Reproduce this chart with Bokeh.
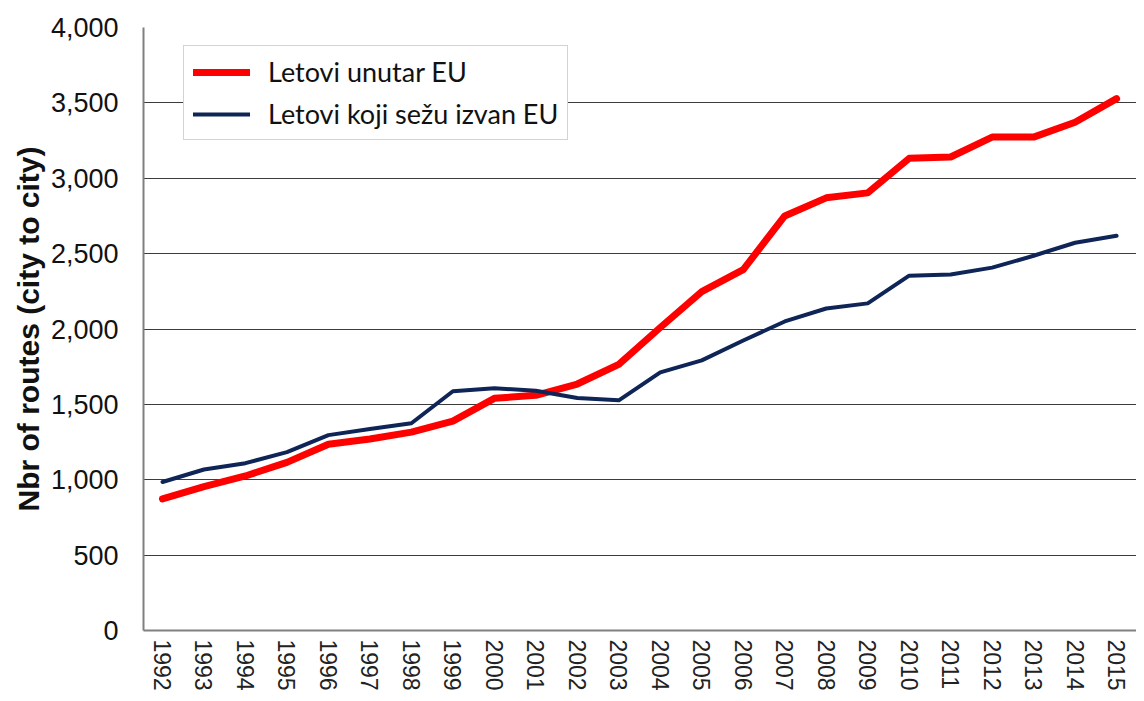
from bokeh.plotting import figure
from bokeh.models import (Range1d, FixedTicker, NumeralTickFormatter, Legend, LegendItem,
                          ColumnDataSource)
from bokeh.embed import file_html
from bokeh.resources import INLINE

years = list(range(1992, 2016))
year_labels = [str(y) for y in years]
within_eu = [873, 955, 1025, 1115, 1236, 1270, 1316, 1389, 1540, 1560, 1635, 1765,
             2010, 2248, 2394, 2750, 2870, 2903, 3132, 3141, 3273, 3273, 3372, 3528]
beyond_eu = [985, 1068, 1110, 1183, 1296, 1336, 1375, 1587, 1607, 1590, 1542, 1527,
             1712, 1792, 1924, 2050, 2136, 2170, 2354, 2361, 2407, 2486, 2572, 2618]
y_ticks = [0, 500, 1000, 1500, 2000, 2500, 3000, 3500, 4000]
series_names = ["Letovi unutar EU", "Letovi koji sežu izvan EU"]

src = ColumnDataSource(dict(x=years, a=within_eu, b=beyond_eu))

p = figure(width=1136, height=693, output_backend="svg", toolbar_location=None,
           x_range=Range1d(1991.542, 2015.48), y_range=Range1d(0, 4000),
           min_border_left=143, min_border_right=0, min_border_top=27, min_border_bottom=61)
p.outline_line_color = None
p.background_fill_color = "white"

r1 = p.line("x", "a", source=src, line_color="#ff0000", line_width=7, line_cap="round", line_join="round")
r2 = p.line("x", "b", source=src, line_color="#0f2557", line_width=4, line_cap="round", line_join="round")

# grid
p.xgrid.grid_line_color = None
p.ygrid.ticker = FixedTicker(ticks=y_ticks)
p.ygrid.grid_line_color = "#3c3c3c"
p.ygrid.grid_line_width = 1

# y axis
ya = p.yaxis[0]
ya.ticker = FixedTicker(ticks=y_ticks)
ya.formatter = NumeralTickFormatter(format="0,0")
ya.major_label_text_font = "Liberation Sans"
ya.major_label_text_font_size = "27px"
ya.major_label_text_color = "#111111"
ya.major_label_standoff = 25
ya.major_tick_line_color = None
ya.major_tick_out = 0
ya.major_tick_in = 0
ya.minor_tick_line_color = None
ya.axis_line_color = "#808080"
ya.axis_line_width = 2
ya.axis_label = "Nbr of routes (city to city)"
ya.axis_label_text_font = "Liberation Sans"
ya.axis_label_text_font_style = "bold"
ya.axis_label_text_font_size = "30px"
ya.axis_label_text_color = "#111111"
ya.axis_label_standoff = 3

# x axis
xa = p.xaxis[0]
xa.ticker = FixedTicker(ticks=years)
xa.major_label_overrides = {y: s for y, s in zip(years, year_labels)}
xa.major_label_orientation = "vertical"
xa.major_label_text_font = "Liberation Sans"
xa.major_label_text_font_size = "23px"
xa.major_label_text_color = "#222222"
xa.major_label_standoff = 9
xa.major_tick_line_color = None
xa.major_tick_out = 0
xa.major_tick_in = 0
xa.minor_tick_line_color = None
xa.axis_line_color = "#808080"
xa.axis_line_width = 2

legend = Legend(items=[LegendItem(label=series_names[0], renderers=[r1]),
                       LegendItem(label=series_names[1], renderers=[r2])],
                location=(40, 490), orientation="vertical")
legend.label_text_font = "Lato"
legend.label_text_font_size = "27px"
legend.label_text_color = "#111111"
legend.glyph_width = 57
legend.glyph_height = 26
legend.label_height = 26
legend.spacing = 9
legend.padding = 9
legend.label_standoff = 18
legend.border_line_color = "#6fbfc6"
legend.border_line_width = 1.5
legend.background_fill_color = "white"
legend.background_fill_alpha = 1
p.add_layout(legend, "center")

open("out.html", "w").write(file_html(p, INLINE))
